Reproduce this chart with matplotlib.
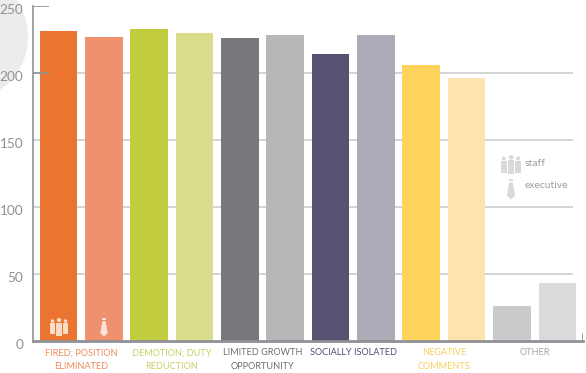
import matplotlib.pyplot as plt
from matplotlib.patches import Circle, Polygon, Rectangle
from matplotlib.transforms import ScaledTranslation

plt.rcParams['font.family'] = ['Lato', 'DejaVu Sans']

# 数据
values = [231, 227, 233, 230, 226, 228, 214, 228, 206, 196, 26, 43]
bar_colors = ['#ec7431', '#ef916f', '#c2cc3f', '#d8dc8b', '#77787c', '#b6b7b9',
              '#585272', '#adabb7', '#fdd35c', '#fde3ae', '#c9cacc', '#dadbdd']
groups = ['FIRED; POSITION\nELIMINATED', 'DEMOTION; DUTY\nREDUCTION',
          'LIMITED GROWTH\nOPPORTUNITY', 'SOCIALLY ISOLATED',
          'NEGATIVE\nCOMMENTS', 'OTHER']
group_colors = ['#ef8a5a', '#c9cf62', '#6d6e72', '#4f4a78', '#f9cf63', '#a3a5ab']
y_ticks = [0, 50, 100, 150, 200, 250]
gray = '#8f9196'

fig = plt.figure(figsize=(5.86, 3.73), dpi=100)
ax = fig.add_axes([33/586, 32/373, 550/586, 335/373])

# 背景的圆和图标用像素坐标
px = fig.add_axes([0, 0, 1, 1], zorder=3)
px.set_xlim(0, 586)
px.set_ylim(373, 0)
px.axis('off')
bg = fig.add_axes([0, 0, 1, 1], zorder=-1)
bg.set_xlim(0, 586)
bg.set_ylim(373, 0)
bg.axis('off')
bg.add_patch(Circle((-36, 37), 64, color='#ececec', lw=0))
ax.patch.set_alpha(0)

xs = list(range(len(values)))
ax.bar(xs, values, width=0.83, color=bar_colors, zorder=2)
ax.set_xlim(-0.562, 11.565)
ax.set_ylim(0, 250)

ax.hlines(y_ticks[1:5], -0.562, 11.35, color='#c8c9cb', lw=1.1, zorder=1)
ax.set_xticks([])
ax.set_yticks(y_ticks)
ax.tick_params(axis='y', length=0, pad=7, labelsize=9.8, labelcolor=gray)
offset = ScaledTranslation(0, -2.5/72, fig.dpi_scale_trans)
for lab in ax.get_yticklabels():
    lab.set_transform(lab.get_transform() + offset)

ax.hlines([200, 250], -0.562, -0.2, color=gray, lw=1.2, zorder=4)
ax.vlines(11.565, 0, 6, color=gray, lw=2, zorder=4)
for s in ['top', 'right']:
    ax.spines[s].set_visible(False)
for s in ['left', 'bottom']:
    ax.spines[s].set_color(gray)
ax.spines['left'].set_linewidth(1.2)
ax.spines['bottom'].set_linewidth(2)
ax.spines['bottom'].set_zorder(5)

trans = ax.get_xaxis_transform()
for i, (g, c) in enumerate(zip(groups, group_colors)):
    ax.text(i*2 + 0.5, -0.022, g, transform=trans, ha='center', va='top',
            color=c, fontsize=6.6, linespacing=1.6, clip_on=False)


def people(cx, cy, s, color):
    # 三个小人
    for dx, k in [(-6.5, 0.85), (6.5, 0.85), (0, 1)]:
        px.add_patch(Circle((cx + dx*s, cy - 7*s*k), 2.1*s*k, color=color, lw=0))
        px.add_patch(Rectangle((cx + dx*s - 3*s*k, cy - 4.5*s*k), 6*s*k, 13*s*k,
                               color=color, lw=0))


def tie(cx, cy, s, color):
    px.add_patch(Rectangle((cx - 2*s, cy - 9.5*s), 4*s, 2.5*s, color=color, lw=0))
    px.add_patch(Polygon([(cx - 1.5*s, cy - 6*s), (cx + 1.5*s, cy - 6*s), (cx + 3.8*s, cy + 6*s),
                          (cx, cy + 9.5*s), (cx - 3.8*s, cy + 6*s)], color=color, lw=0))


people(59, 327, 1, '#fbdcc4')
tie(104, 327, 1, '#fbe2d3')
people(511, 165, 1.1, '#d8d9db')
tie(511, 189, 1.1, '#d8d9db')
px.text(525, 164, 'staff', color='#9b9da1', fontsize=7.5, va='center')
px.text(525, 186, 'executive', color='#9b9da1', fontsize=7.5, va='center')

fig.savefig('out.png', dpi=100)
